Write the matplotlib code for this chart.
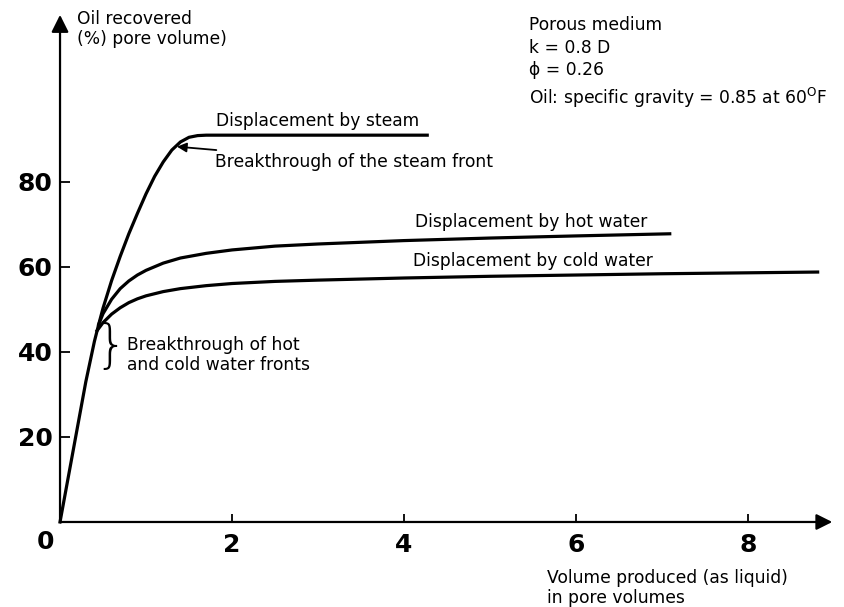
import matplotlib
matplotlib.use('Agg')
import matplotlib.pyplot as plt

plt.rcParams['font.family'] = ['DejaVu Sans']

# values: pore volumes produced vs. oil recovered (%)
steam_x = [0, 0.1, 0.2, 0.3, 0.4, 0.45, 0.5, 0.6, 0.7, 0.8, 0.9, 1.0, 1.1, 1.2, 1.3, 1.4, 1.5, 1.6, 1.7, 4.27]
steam_y = [0, 11, 22, 33, 42.5, 46.5, 50.3, 56.8, 62.5, 67.8, 72.6, 77.2, 81.3, 84.7, 87.5, 89.4, 90.5, 90.9, 91.0, 91.0]

hot_x = [0.45, 0.5, 0.6, 0.7, 0.8, 0.9, 1.0, 1.2, 1.4, 1.7, 2.0, 2.5, 3.0, 3.5, 4.0, 5.0, 6.0, 7.09]
hot_y = [46.5, 49.0, 52.4, 54.9, 56.7, 58.1, 59.2, 60.9, 62.1, 63.2, 64.0, 64.9, 65.4, 65.8, 66.2, 66.8, 67.3, 67.8]

cold_x = [0.43, 0.5, 0.6, 0.7, 0.8, 0.9, 1.0, 1.2, 1.4, 1.7, 2.0, 2.5, 3.0, 4.0, 5.0, 6.0, 7.0, 8.81]
cold_y = [45.0, 46.9, 48.9, 50.4, 51.6, 52.5, 53.2, 54.2, 54.9, 55.6, 56.1, 56.6, 56.9, 57.4, 57.8, 58.1, 58.4, 58.8]

xticks = [2, 4, 6, 8]
yticks = [20, 40, 60, 80]

fig = plt.figure(figsize=(8.45, 6.07), dpi=100)
ax = fig.add_axes([0, 0, 1, 1])
ax.set_xlim(-0.698, 9.128)
ax.set_ylim(-20.0, 122.8)

for s in ['top', 'right', 'left', 'bottom']:
    ax.spines[s].set_visible(False)
ax.spines['left'].set_position(('data', 0))
ax.spines['bottom'].set_position(('data', 0))

# axes with arrowheads
ax.annotate('', xy=(0, 119.3), xytext=(0, 0),
            arrowprops=dict(arrowstyle='-|>', lw=1.6, color='black', mutation_scale=26, shrinkA=0, shrinkB=0))
ax.annotate('', xy=(8.98, 0), xytext=(0, 0),
            arrowprops=dict(arrowstyle='-|>', lw=1.6, color='black', mutation_scale=24, shrinkA=0, shrinkB=0))

ax.set_xticks(xticks)
ax.set_yticks(yticks)
ax.set_xticklabels([str(t) for t in xticks])
ax.set_yticklabels([str(t) for t in yticks])
ax.tick_params(axis='x', direction='in', length=6, width=1.3, pad=8.0, labelsize=18, top=False)
ax.tick_params(axis='y', direction='in', length=7, width=1.3, pad=5.5, labelsize=18, right=False)
for lab in ax.get_xticklabels() + ax.get_yticklabels():
    lab.set_fontweight('bold')
ax.text(-0.174, -4.7, '0', fontsize=18, fontweight='bold', ha='center', va='center')

# curves
ax.plot(steam_x, steam_y, color='black', lw=2.3, solid_joinstyle='round')
ax.plot(hot_x, hot_y, color='black', lw=2.3, solid_joinstyle='round')
ax.plot(cold_x, cold_y, color='black', lw=2.3, solid_joinstyle='round')

fs = 12.3
ax.text(0.2, 118.4, 'Oil recovered', fontsize=fs, va='center', ha='left')
ax.text(0.2, 113.6, '(%) pore volume)', fontsize=fs, va='center', ha='left')

ax.text(5.45, 116.9, 'Porous medium', fontsize=fs, va='center', ha='left')
ax.text(5.45, 111.5, 'k = 0.8 D', fontsize=fs, va='center', ha='left')
ax.text(5.45, 106.3, '\u03d5 = 0.26', fontsize=fs, va='center', ha='left')
ax.text(5.45, 99.8, r'Oil: specific gravity = 0.85 at 60$^{\mathrm{O}}$F', fontsize=fs, va='center', ha='left')

ax.text(1.81, 94.4, 'Displacement by steam', fontsize=fs, va='center', ha='left')
ax.annotate('Breakthrough of the steam front', xy=(1.36, 88.3), xytext=(1.80, 84.7),
            fontsize=fs, va='center', ha='left',
            arrowprops=dict(arrowstyle='-|>', lw=1.3, color='black', mutation_scale=14, shrinkA=1, shrinkB=0))

ax.text(4.13, 70.6, 'Displacement by hot water', fontsize=fs, va='center', ha='left')
ax.text(4.10, 61.4, 'Displacement by cold water', fontsize=fs, va='center', ha='left')

ax.text(0.59, 41.2, '}', fontsize=37, va='center', ha='center', fontweight='light')
ax.text(0.78, 41.6, 'Breakthrough of hot', fontsize=fs, va='center', ha='left')
ax.text(0.78, 36.9, 'and cold water fronts', fontsize=fs, va='center', ha='left')

ax.text(5.66, -13.2, 'Volume produced (as liquid)', fontsize=fs, va='center', ha='left')
ax.text(5.66, -17.9, 'in pore volumes', fontsize=fs, va='center', ha='left')

fig.savefig('out.png', dpi=100)
